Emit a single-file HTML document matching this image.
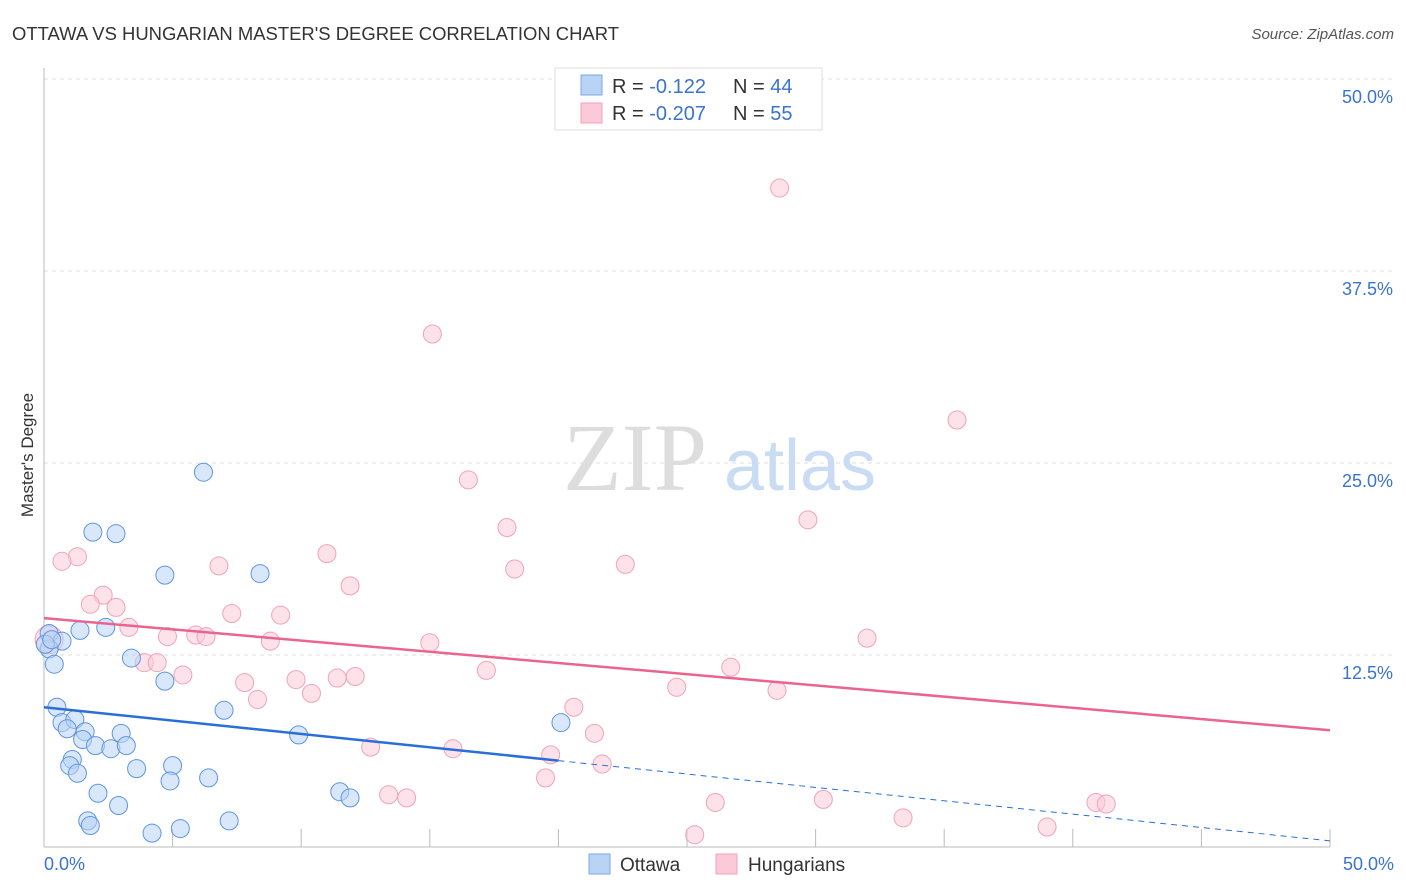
<!DOCTYPE html>
<html><head><meta charset="utf-8"><style>
body{margin:0;background:#fff;font-family:"Liberation Sans",sans-serif;}
svg{display:block}
</style></head><body>
<svg id="chart" width="1406" height="892">
<text x="12" y="40" font-size="18" fill="#333" textLength="607" lengthAdjust="spacingAndGlyphs">OTTAWA VS HUNGARIAN MASTER'S DEGREE CORRELATION CHART</text>
<text x="1394" y="39" font-size="15" fill="#555" font-style="italic" text-anchor="end">Source: ZipAtlas.com</text>
<g id="grid"></g>
<text x="635" y="490" font-size="96" fill="#ddd" font-family="Liberation Serif" text-anchor="middle">ZIP</text>
<text x="800" y="490" font-size="72" fill="#c9dcf3" text-anchor="middle">atlas</text>
<text x="33" y="455" font-size="17" fill="#333" text-anchor="middle" transform="rotate(-90 33 455)">Master's Degree</text>
<g id="marks"></g>
<g>
<rect x="555" y="68" width="267" height="62" fill="#fff" stroke="#ddd"/>
<rect x="581" y="75" width="21" height="20" fill="#b8d3f4" stroke="#7aa9e6"/>
<rect x="581" y="103" width="21" height="20" fill="#fbcad8" stroke="#f0a3b9"/>
<text x="612" y="93" font-size="20" fill="#333">R =  <tspan fill="#3a74cf">-0.122</tspan></text>
<text x="733" y="93" font-size="20" fill="#333">N = <tspan fill="#3a74cf">44</tspan></text>
<text x="612" y="120" font-size="20" fill="#333">R = <tspan fill="#3a74cf">-0.207</tspan></text>
<text x="733" y="120" font-size="20" fill="#333">N = <tspan fill="#3a74cf"> 55</tspan></text>
</g>
<g>
<rect x="589" y="854" width="21" height="20" fill="#b8d3f4" stroke="#7aa9e6"/>
<text x="620" y="871" font-size="19" fill="#333">Ottawa</text>
<rect x="716" y="854" width="21" height="20" fill="#fbcad8" stroke="#f0a3b9"/>
<text x="748" y="871" font-size="19" fill="#333">Hungarians</text>
</g>
</svg>
<script>
const yTicks=[12.5,25,37.5,50];
const yTickLabels=["12.5%","25.0%","37.5%","50.0%"];
const xEndLabels=["0.0%","50.0%"];
const ottawaX=[6.2,1.9,2.8,4.7,8.4,1.4,2.4,0.2,0.7,0.2,0.4,3.4,4.7,0.5,7.0,0.7,1.2,0.9,1.6,3.0,1.5,2.0,2.6,3.2,9.9,20.1,1.1,1.0,5.0,1.3,3.6,6.4,4.9,2.1,11.5,11.9,2.9,1.7,1.8,7.2,4.2,5.3,0.05,0.3];
const ottawaY=[24.4,20.5,20.4,17.7,17.8,14.1,14.3,13.9,13.4,12.9,11.9,12.3,10.8,9.1,8.9,8.1,8.3,7.7,7.5,7.4,7.0,6.6,6.4,6.6,7.3,8.1,5.7,5.3,5.3,4.8,5.1,4.5,4.3,3.5,3.6,3.2,2.7,1.7,1.4,1.7,0.9,1.2,13.2,13.5];
const hungX=[28.6,15.1,35.5,16.5,18.0,29.7,1.3,0.7,11.0,18.3,22.6,6.8,11.9,2.3,1.8,2.8,7.3,9.2,3.3,4.8,5.9,6.3,8.8,15.0,32.0,3.9,4.4,5.4,26.7,9.8,7.8,11.4,12.1,17.2,10.4,8.3,24.6,28.5,20.6,21.4,12.7,15.9,19.7,21.7,19.5,13.4,14.1,26.1,30.3,40.9,41.3,33.4,39.0,25.3,0.2];
const hungY=[42.9,33.4,27.8,23.9,20.8,21.3,18.9,18.6,19.1,18.1,18.4,18.3,17.0,16.4,15.8,15.6,15.2,15.1,14.3,13.7,13.8,13.7,13.4,13.3,13.6,12.0,12.0,11.2,11.7,10.9,10.7,11.0,11.1,11.5,10.0,9.6,10.4,10.2,9.1,7.4,6.5,6.4,6.0,5.4,4.5,3.4,3.2,2.9,3.1,2.9,2.8,1.9,1.3,0.8,13.5];
const ottawaTrend=[9.1,0.4];
const hungTrend=[14.9,7.6];
const X0=44,X1=1330,Y0=847,Y1=79;
const sx=v=>X0+v/50*(X1-X0), sy=v=>Y0-v/50*(Y0-Y1);
const NS="http://www.w3.org/2000/svg";
const grid=document.getElementById('grid'), marks=document.getElementById('marks'), svg=document.getElementById('chart');
function mk(tag,attrs,parent){const e=document.createElementNS(NS,tag);for(const k in attrs)e.setAttribute(k,attrs[k]);parent.appendChild(e);return e;}
yTicks.forEach((t,i)=>{
  const l=mk('line',{x1:X0,x2:1394,y1:sy(t),y2:sy(t),stroke:'#ddd','stroke-dasharray':'4,4'},grid);
  
  
  const tx=mk('text',{x:1393,y:sy(t)+24,'font-size':18,fill:'#3a74cf','text-anchor':'end'},grid);
  tx.textContent=yTickLabels[i];
  
  
});
let a=mk('line',{x1:X0,x2:X0,y1:68,y2:Y0,stroke:'#bbb'},grid);


a=mk('line',{x1:X0,x2:X1,y1:Y0,y2:Y0,stroke:'#bbb'},grid);


for(let i=1;i<=10;i++){const t=mk('line',{x1:sx(i*5),x2:sx(i*5),y1:Y0,y2:Y0-18,stroke:'#bbb'},grid);

}
[[0,'start',44],[50,'end',1394]].forEach((d,i)=>{const t=mk('text',{x:d[2],y:870,'font-size':18,fill:'#3a74cf','text-anchor':d[1]},grid);t.textContent=xEndLabels[i];

});
function pts(xs,ys,fill,stroke,name){xs.forEach((x,i)=>{const r=(name==='hungarians-point'&&i===xs.length-1)?14:9;
const c=mk('circle',{cx:sx(x),cy:sy(ys[i]),r:r,fill:fill,'fill-opacity':0.55,stroke:stroke,'stroke-width':1},marks);

});}
pts(hungX,hungY,'#fbcad8','#f0a3b9','hungarians-point');
pts(ottawaX,ottawaY,'#b8d3f4','#5f95e0','ottawa-point');
const yAt=(tr,x)=>tr[0]+(tr[1]-tr[0])*x/50;
let l=mk('line',{x1:sx(0),y1:sy(yAt(hungTrend,0)),x2:sx(50),y2:sy(yAt(hungTrend,50)),stroke:'#e9658f','stroke-width':2.5},marks);


l=mk('line',{x1:sx(0),y1:sy(yAt(ottawaTrend,0)),x2:sx(20),y2:sy(yAt(ottawaTrend,20)),stroke:'#2a6fd6','stroke-width':2.5},marks);


l=mk('line',{x1:sx(20),y1:sy(yAt(ottawaTrend,20)),x2:sx(50),y2:sy(yAt(ottawaTrend,50)),stroke:'#2a6fd6','stroke-width':1,'stroke-dasharray':'6,5'},marks);


</script>
</body></html>
